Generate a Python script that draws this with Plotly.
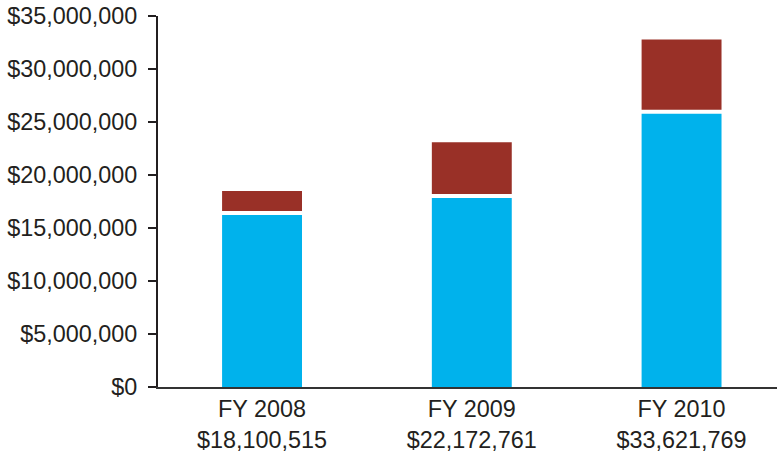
import plotly.graph_objects as go

categories = ["FY 2008", "FY 2009", "FY 2010"]
totals_text = ["$18,100,515", "$22,172,761", "$33,621,769"]
blue_values = [16.23e6, 17.83e6, 25.78e6]
red_values = [1.87e6, 4.89e6, 6.62e6]
y_ticks = [0, 5e6, 10e6, 15e6, 20e6, 25e6, 30e6, 35e6]

GAP = 0.38e6  # white separation between the two segments
BLUE = "#00b2ec"
RED = "#993027"
INK = "#231f20"

x = list(range(len(categories)))
fig = go.Figure()
fig.add_bar(x=x, y=blue_values, marker=dict(color=BLUE, line=dict(width=0)),
            width=0.381, hoverinfo="y", name="A")
fig.add_bar(x=x, y=red_values, base=[b + GAP for b in blue_values],
            marker=dict(color=RED, line=dict(width=0)),
            width=0.381, hoverinfo="y", name="B")

fig.update_layout(
    barmode="overlay",
    width=778, height=455,
    margin=dict(l=158, r=1, t=16, b=68),
    paper_bgcolor="white", plot_bgcolor="white",
    showlegend=False,
    font=dict(family="Liberation Sans, Arial, Helvetica, sans-serif", size=23.4, color=INK),
)
fig.update_xaxes(
    range=[-0.496, 2.455],
    tickvals=x,
    ticktext=[f"{c}<br>{t}" for c, t in zip(categories, totals_text)],
    showline=True, linecolor="#333333", linewidth=2,
    ticks="", showgrid=False, zeroline=False,
)
fig.update_yaxes(
    range=[0, 35e6],
    tickvals=y_ticks,
    tickformat="$,.0f",
    showline=True, linecolor=INK, linewidth=2,
    ticks="outside", ticklen=8, tickwidth=2, tickcolor=INK,
    ticklabelstandoff=6,
    showgrid=False, zeroline=False,
)

fig.write_html("out.html")
